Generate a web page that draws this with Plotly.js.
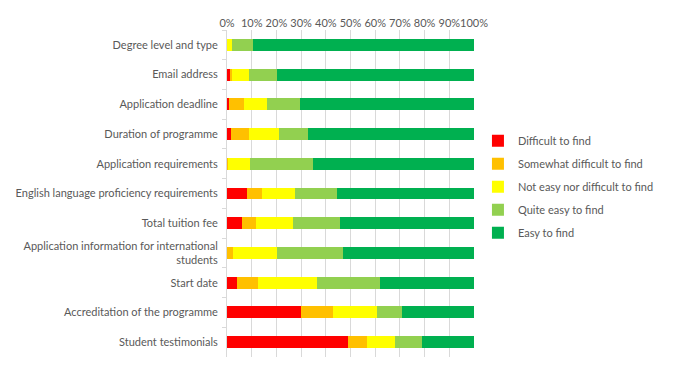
<!DOCTYPE html>
<html><head><meta charset="utf-8">
<script src="https://cdn.plot.ly/plotly-3.0.1.min.js"></script>
<style>html,body{margin:0;padding:0;background:#fff}#chart{width:678px;height:390px}</style>
</head><body><div id="chart"></div>
<script>
const categories = [
  "Degree level and type",
  "Email address",
  "Application deadline",
  "Duration of programme",
  "Application requirements",
  "English language proficiency requirements",
  "Total tuition fee",
  "Application information for international<br>students",
  "Start date",
  "Accreditation of the programme",
  "Student testimonials"
];
const seriesNames = ["Difficult to find","Somewhat difficult to find","Not easy nor difficult to find","Quite easy to find","Easy to find"];
const difficult   = [0,   1.3, 0.9, 1.7, 0,    8.2, 6.2, 0,    4.2, 30.0, 49.0];
const somewhat    = [0,   0.7, 6.1, 7.3, 0.4,  6.1, 5.6, 2.5,  8.5, 13.0, 7.7];
const neutral     = [2.2, 7.0, 9.3, 11.9, 9.0, 13.3, 15.0, 17.8, 23.8, 17.7, 11.3];
const quiteEasy   = [8.4, 11.3, 13.3, 12.0, 25.5, 17.0, 19.0, 26.7, 25.5, 10.1, 10.9];
const easy        = [89.4, 79.7, 70.4, 67.1, 65.1, 55.4, 54.2, 53.0, 38.0, 29.2, 21.1];
const colors = ["#FF0000","#FFC000","#FFFF00","#92D050","#00B050"];
const allSeries = [difficult, somewhat, neutral, quiteEasy, easy];

const traces = allSeries.map((vals, i) => ({
  type: 'bar', orientation: 'h',
  x: vals, y: categories,
  name: seriesNames[i],
  legendgroup: 'g' + i,
  marker: {color: colors[i], line: {width: 0}},
  hoverinfo: 'x+name'
}));

const layout = {
  width: 678, height: 390,
  margin: {l: 227, r: 204, t: 30, b: 33},
  barmode: 'stack',
  bargap: 0.6,
  font: {family: 'Lato, "Liberation Sans", sans-serif', size: 11, color: '#595959'},
  paper_bgcolor: '#fff', plot_bgcolor: '#fff',
  xaxis: {
    side: 'top', range: [0, 100], dtick: 10, ticksuffix: '%', tickangle: 0,
    showgrid: true, gridcolor: '#D9D9D9', gridwidth: 1,
    zeroline: false, showline: false, ticks: '', fixedrange: true,
    tickfont: {size: 11, color: '#595959'}
  },
  yaxis: {
    type: 'category', categoryorder: 'array', categoryarray: categories,
    autorange: 'reversed',
    showline: true, linecolor: '#D9D9D9', linewidth: 1,
    ticks: 'outside', tickson: 'boundaries', ticklen: 4, tickcolor: '#D9D9D9',
    ticklabelstandoff: 6,
    showgrid: false, zeroline: false, fixedrange: true,
    tickfont: {size: 11, color: '#595959'}
  },
  showlegend: true,
  legend: {
    x: 1.016, xanchor: 'left', y: 0.706, yanchor: 'top',
    traceorder: 'grouped', tracegroupgap: 4,
    font: {size: 11, color: '#595959'},
    itemwidth: 30, bgcolor: 'rgba(0,0,0,0)'
  }
};
Plotly.newPlot('chart', traces, layout, {displayModeBar: false, staticPlot: true});
</script>
</body></html>
